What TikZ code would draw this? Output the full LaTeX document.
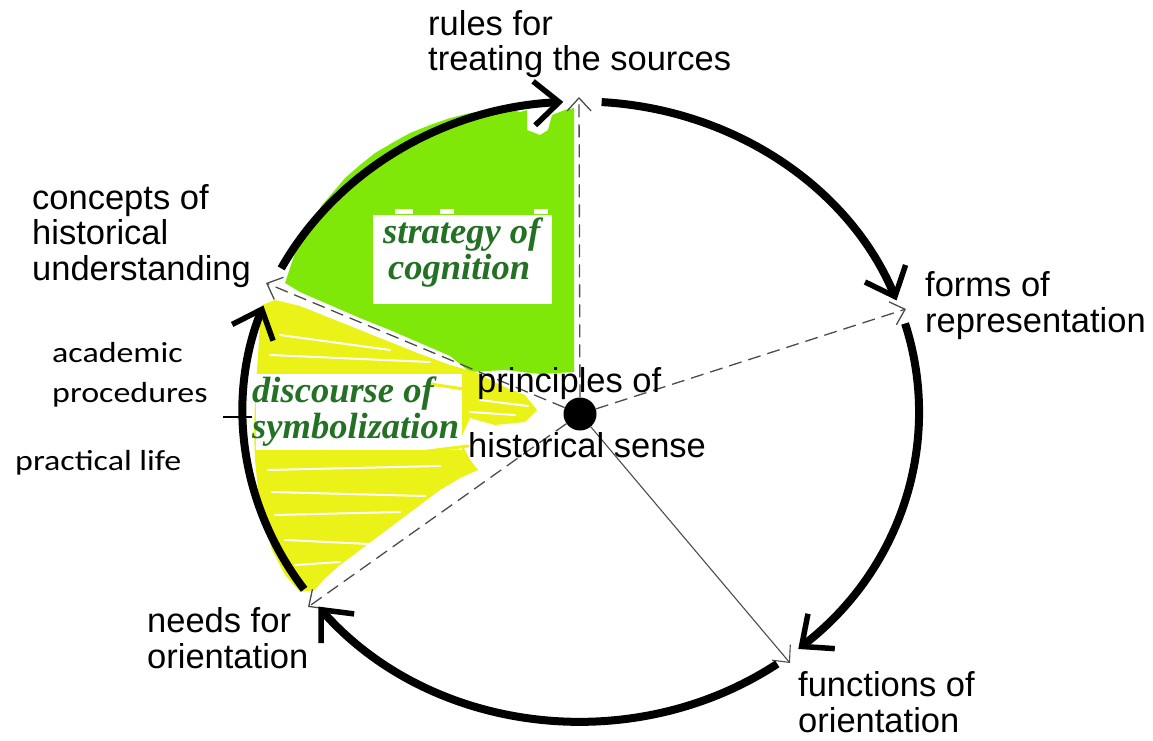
\documentclass[tikz,border=0pt]{standalone}
\usepackage{fontspec}
\setmainfont{Liberation Sans}
\newfontfamily\calib{Carlito}
\newfontfamily\tnr{Liberation Serif}
\usetikzlibrary{arrows.meta}
\definecolor{limefill}{RGB}{128,232,8}
\definecolor{yelfill}{RGB}{234,242,24}
\definecolor{darkgr}{RGB}{36,112,36}
\begin{document}
\begin{tikzpicture}[x=1pt,y=1pt,
  lbl/.style={anchor=base west, inner sep=0pt, align=left, font=\fontsize{34.5}{35.5}\selectfont},
  cal/.style={anchor=base west, inner sep=0pt, align=left, font=\calib\fontsize{29}{40}\selectfont},
  ital/.style={anchor=base west, inner sep=0pt, align=left, text=darkgr, font=\tnr\bfseries\itshape\fontsize{36.5}{36}\selectfont},
  arcline/.style={line width=8pt, -{Straight Barb[length=25pt,width=44pt,line width=5.5pt]}},
  spoke/.style={draw=black!70, line width=1.3pt, dash pattern=on 13pt off 7pt, -{Straight Barb[length=13pt,width=24pt,line width=1.3pt]}},
  spokesolid/.style={draw=black!70, line width=1.1pt, -{Straight Barb[length=13pt,width=24pt,line width=1.1pt]}},
  streak/.style={white, line width=2pt, line cap=round}
]
\useasboundingbox (0,0) rectangle (1153,-741);
\coordinate (C) at (581,-411.5);

% green sector
\fill[limefill] (290,-268) -- (296,-250) -- (305,-238) -- (312,-222) -- (322,-205) -- (335,-190) -- (345,-178) -- (360,-165) -- (375,-153) -- (392,-143) -- (410,-133) -- (430,-125) -- (450,-118) -- (470,-113) -- (490,-110) -- (505,-108) -- (520,-112) -- (527,-110) -- (527,-130) -- (540,-135) -- (548,-130) -- (552,-115) -- (565,-110) -- (574,-108) -- (574,-372) -- (540,-374) -- (505,-370) -- (470,-372) -- (450,-356) -- (420,-343) -- (390,-330) -- (360,-318) -- (330,-305) -- (300,-292) -- (285,-283) -- cycle;
% white box behind "strategy of cognition"
\fill[white] (373,-215) rectangle (552,-304);
\fill[white] (395,-209) rectangle (413,-214);
\fill[white] (440,-209) rectangle (454,-214);
\fill[white] (534,-209) rectangle (548,-214);

% yellow sector
\fill[yelfill] (262,-305) -- (275,-300) -- (300,-306) -- (330,-318) -- (360,-330) -- (390,-342) -- (420,-354) -- (450,-365) -- (475,-372) -- (500,-385) -- (525,-395) -- (537,-410) -- (525,-422) -- (495,-425) -- (470,-418) -- (460,-440) -- (470,-460) -- (478,-470) -- (460,-478) -- (440,-490) -- (420,-505) -- (400,-520) -- (380,-535) -- (360,-550) -- (340,-565) -- (325,-578) -- (315,-590) -- (300,-592) -- (285,-575) -- (272,-550) -- (263,-520) -- (258,-490) -- (255,-460) -- (254,-430) -- (255,-400) -- (257,-370) -- (259,-340) -- (260,-320) -- cycle;
% white band behind "discourse of symbolization"
\fill[white] (256,-374) rectangle (462,-450);
\draw[yelfill, line width=3pt, line cap=round] (430,-384) -- (470,-390);
\draw[yelfill, line width=3pt, line cap=round] (420,-452) -- (468,-446);
% scribble streaks
\draw[streak] (280,-335) -- (390,-350);
\draw[streak] (270,-355) -- (430,-362);
\draw[streak] (480,-400) -- (528,-406);
\draw[streak] (470,-412) -- (515,-415);
\draw[streak] (268,-470) -- (440,-466);
\draw[streak] (272,-492) -- (425,-496);
\draw[streak] (275,-515) -- (400,-512);
\draw[streak] (285,-540) -- (370,-544);
\draw[streak] (295,-565) -- (340,-562);

% spokes
\node[circle, fill=black, minimum size=33pt, inner sep=0pt] (hub) at (580,-414) {};
\coordinate (ptop) at (579,-97);
\coordinate (pforms) at (906,-309);
\coordinate (pfunc) at (790,-663);
\coordinate (pneeds) at (308,-607);
\coordinate (pconc) at (266,-283);
\draw[spoke] (hub) -- (ptop);
\draw[spoke] (hub) -- (pforms);
\draw[spokesolid] (hub) -- (pfunc);
\draw[spoke] (hub) -- (pneeds);
\draw[spoke] (hub) -- (pconc);

% cycle arcs
\draw[arcline] ([shift={(152.5:338 and 310)}]C) arc[start angle=152.5, end angle=93, x radius=338, y radius=310];
\draw[arcline] ([shift={(86.5:338 and 310)}]C) arc[start angle=86.5, end angle=21, x radius=338, y radius=310];
\draw[arcline] ([shift={(16.5:338 and 310)}]C) arc[start angle=16.5, end angle=-50, x radius=338, y radius=310];
\draw[arcline] ([shift={(-54.5:338 and 310)}]C) arc[start angle=-54.5, end angle=-141, x radius=338, y radius=310];
\draw[arcline] ([shift={(-145:338 and 310)}]C) arc[start angle=-145, end angle=-200, x radius=338, y radius=310];
\draw[line width=2pt] (223,-417) -- (252,-417);

% labels (anchor = baseline of the last line)
\node[lbl] (lrules) at (428,-71) {rules for\\treating the sources};
\node[lbl] (lconc) at (32,-280) {concepts of\\historical\\understanding};
\node[lbl] (lforms) at (925,-332) {forms of\\representation};
\node[lbl] (lneeds) at (147,-668) {needs for\\orientation};
\node[lbl] (lfunc) at (798,-732) {functions of\\orientation};
\node[lbl] (lprin) at (477,-392) {principles of};
\node[lbl] (lhist) at (468,-457) {historical sense};
\node[cal] (lacad) at (52,-402) {\scalebox{1.17}[1]{academic}\\\scalebox{1.17}[1]{procedures}};
\node[cal] (lprac) at (15,-470) {\scalebox{1.17}[1]{practical life}};
\node[ital] (lstrat) at (383,-279) {strategy of\\\hspace*{5pt}cognition};
\node[ital] (ldisc) at (252,-438) {discourse of\\symbolization};
\end{tikzpicture}
\end{document}
